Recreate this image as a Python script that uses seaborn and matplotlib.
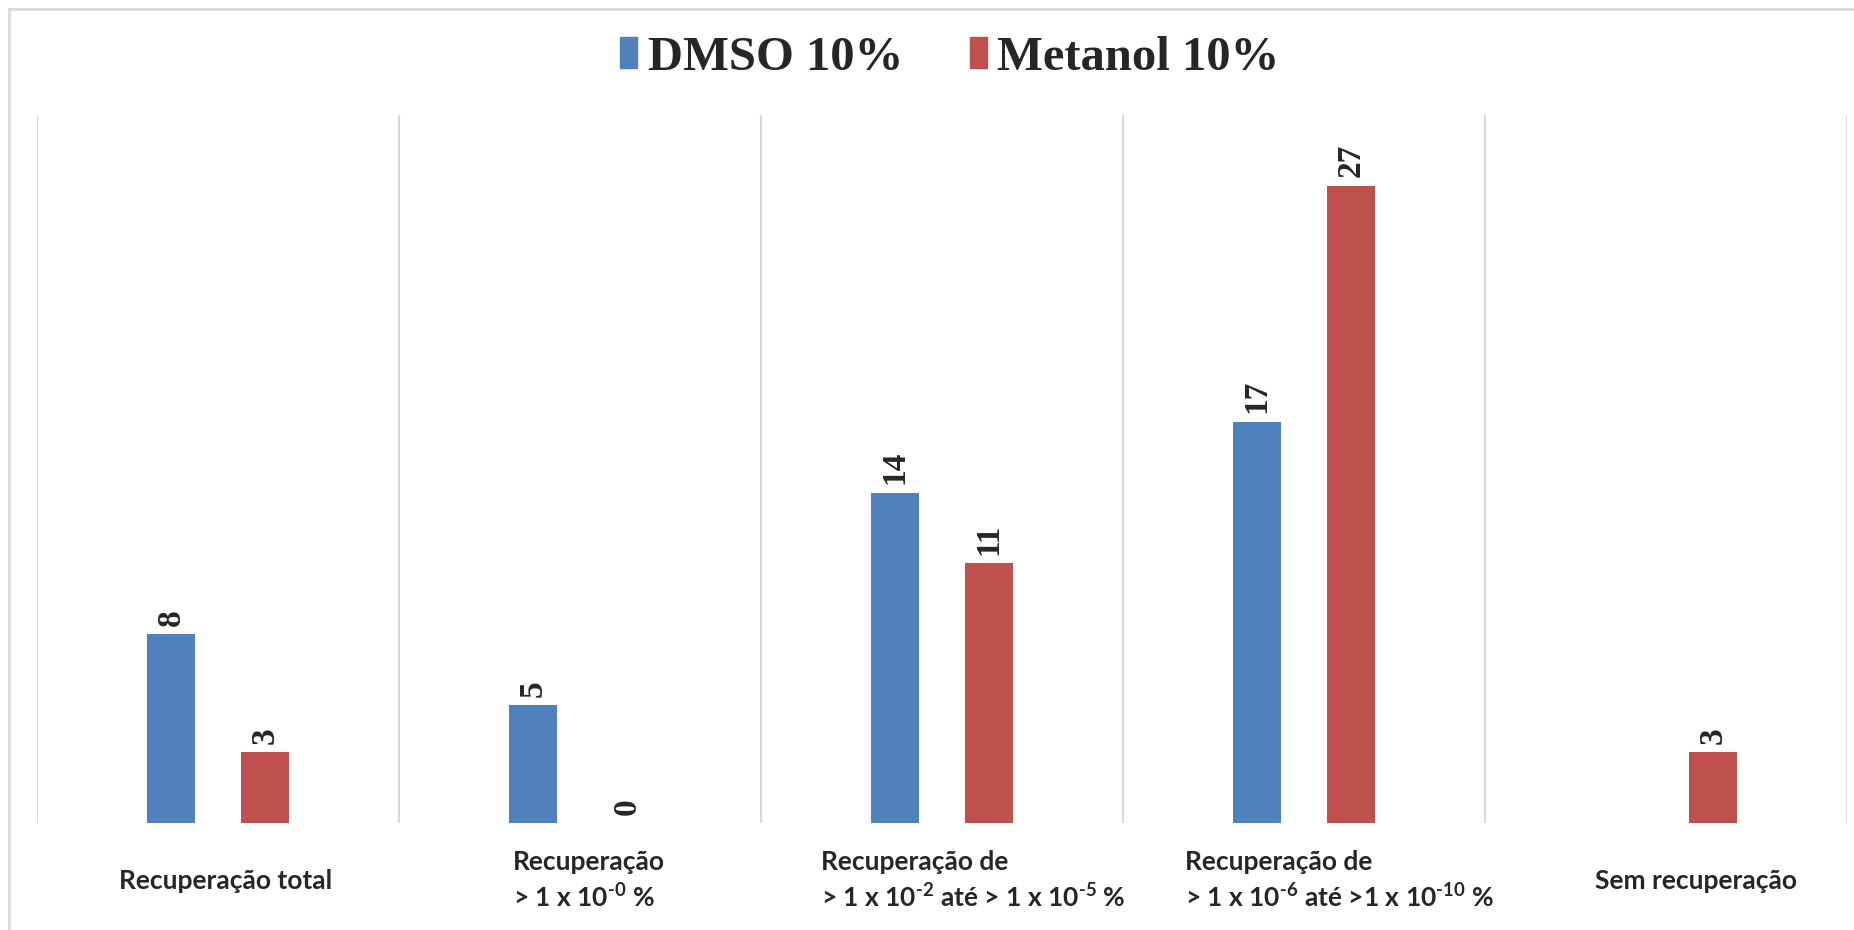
import matplotlib
matplotlib.use("Agg")
import matplotlib.pyplot as plt
import matplotlib.ticker as mticker
from matplotlib.lines import Line2D
import numpy as np
import pandas as pd
import seaborn as sns

categories = [
    "Recuperação total",
    "Recuperação\n> 1 x 10$^{\\text{-}0}$ %",
    "Recuperação de\n> 1 x 10$^{\\text{-}2}$ até > 1 x 10$^{\\text{-}5}$ %",
    "Recuperação de\n> 1 x 10$^{\\text{-}6}$ até >1 x 10$^{\\text{-}10}$ %",
    "Sem recuperação",
]
series = ["DMSO 10%", "Metanol 10%"]
dmso = [8, 5, 14, 17, None]
metanol = [3, 0, 11, 27, 3]
colors = ["#4F81BD", "#C0504D"]
label_offsets = [0.022, 0.025, 0.086, 0.099, 0.083]

sns.set_style("white")
plt.rcParams["mathtext.fontset"] = "custom"
plt.rcParams["mathtext.default"] = "bf"
plt.rcParams["mathtext.bf"] = "Lato:bold"
plt.rcParams["mathtext.rm"] = "Lato:bold"

rows = []
for i, cat in enumerate(categories):
    for name, vals in zip(series, [dmso, metanol]):
        if vals[i] is not None:
            rows.append({"cat": cat, "serie": name, "valor": vals[i]})
df = pd.DataFrame(rows)

fig = plt.figure(figsize=(18.54, 9.30), dpi=100)
ax = fig.add_axes([37 / 1854, 1 - 823 / 930, (1847 - 37) / 1854, (823 - 115) / 930])

sns.barplot(data=df, x="cat", y="valor", hue="serie", order=categories,
            hue_order=series, palette=colors, width=0.52, dodge=True,
            legend=False, ax=ax, saturation=1)

# narrow the bars, keep their centers
bar_w = 0.133
for cont in ax.containers:
    for p in cont.patches:
        c = p.get_x() + p.get_width() / 2
        p.set_x(c - bar_w / 2)
        p.set_width(bar_w)
        p.set_edgecolor("none")

for cont in ax.containers:
    labels = [f"{v:g}" if not np.isnan(v) else "" for v in cont.datavalues]
    ax.bar_label(cont, labels=labels, rotation=90, padding=6, fontsize=24,
                 fontweight="bold", family="Liberation Serif")

ax.set_ylim(0, 30)
ax.set_xlim(-0.5, len(categories) - 0.5)
ax.set_yticks([])
ax.set_xticks([])
ax.set_xlabel("")
ax.set_ylabel("")
ax.xaxis.set_minor_locator(mticker.FixedLocator(np.arange(-0.5, len(categories), 1)))
ax.grid(which="minor", axis="x", color="#d9d9d9", linewidth=1.5)
ax.tick_params(which="minor", length=0)
for s in ax.spines.values():
    s.set_visible(False)

trans = matplotlib.transforms.blended_transform_factory(ax.transData, fig.transFigure)
for i, (cat, dx) in enumerate(zip(categories, label_offsets)):
    ax.text(i + dx, 1 - 881 / 930, cat, transform=trans, ha="center", va="center",
            multialignment="left", fontsize=19, fontweight="bold", family="Lato",
            linespacing=1.35)

handles = [plt.Rectangle((0, 0), 1, 1, color=c) for c in colors]
fig.legend(handles, series, loc="center", bbox_to_anchor=(950 / 1854, 1 - 58 / 930),
           ncol=2, frameon=False, handlelength=0.34, handleheight=0.6,
           handletextpad=0.22, columnspacing=1.38,
           prop={"family": "Liberation Serif", "weight": "bold", "size": 35})

# light frame around the chart area
fig.add_artist(Line2D([9 / 1854, 1], [1 - 9 / 930] * 2, transform=fig.transFigure,
                      color="#d9d9d9", linewidth=2))
fig.add_artist(Line2D([9 / 1854] * 2, [0, 1 - 9 / 930], transform=fig.transFigure,
                      color="#d9d9d9", linewidth=2))

fig.savefig("out.png", dpi=100, facecolor="white")
